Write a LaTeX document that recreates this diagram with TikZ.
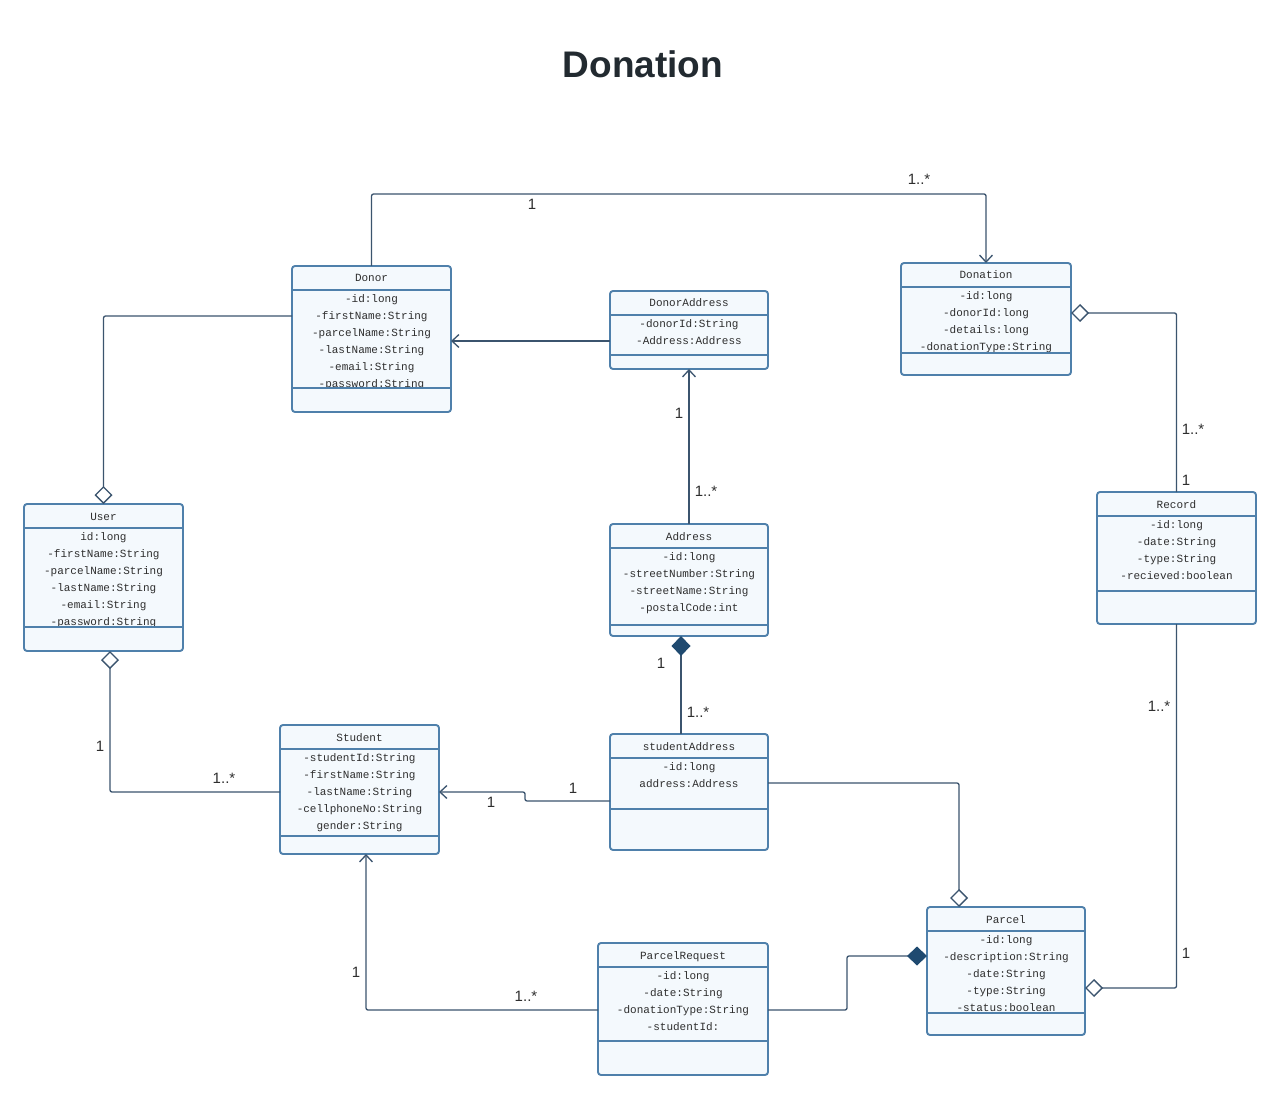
\documentclass[tikz,border=0pt]{standalone}
\usepackage{fontspec}
\setmainfont{Liberation Sans}
\newfontfamily\monof{Liberation Mono}
\usetikzlibrary{arrows.meta}
\definecolor{boxborder}{HTML}{4F80AB}
\definecolor{boxfillc}{HTML}{F4F9FD}
\definecolor{txtcol}{HTML}{2E2E2E}
\definecolor{conncol}{HTML}{3B546E}
\definecolor{fdcol}{HTML}{1F4A70}
\definecolor{titlecol}{HTML}{222A30}
\tikzset{
  conn/.style={draw=conncol, line width=1.3pt, rounded corners=2pt},
  boxline/.style={draw=boxborder, line width=1.9pt},
  boxfill/.style={fill=boxfillc},
  attr/.style={font=\monof\fontsize{11}{12}\selectfont, text=txtcol, inner sep=0pt, anchor=base},
  lbl/.style={font=\fontsize{15}{18}\selectfont, text=txtcol, inner sep=0pt},
  obarb/.tip={Straight Barb[length=7pt,width=13pt]},
  odia/.tip={Diamond[length=18pt,width=18pt,fill=white]},
  fdia/.tip={Diamond[length=20pt,width=19pt,fill=fdcol,color=fdcol]},
}
\newcommand{\umlclass}[8]{%
  \node[inner sep=0pt, outer sep=0pt, minimum width={(#4-#2)*1pt}, minimum height={(#5-#3)*1pt}] (#1) at ({(#2+#4)/2},{(#3+#5)/2}) {};
  \fill[boxfill, rounded corners=3pt] (#2,#3) rectangle (#4,#5);
  \node[attr] at ({(#2+#4)/2},{#3+16}) {#7};
  \foreach \t [count=\i from 0] in {#8} {\node[attr] at ({(#2+#4)/2},{#3+36.5+17*\i}) {\t};}
  \fill[boxfill, rounded corners=2pt] ({#2+1},{#6+1}) rectangle ({#4-1},{#5-1});
  \draw[boxline] (#2,{#3+24}) -- (#4,{#3+24});
  \draw[boxline] (#2,#6) -- (#4,#6);
  \draw[boxline, rounded corners=3pt] (#2,#3) rectangle (#4,#5);
}
\begin{document}
\begin{tikzpicture}[x=1pt,y=-1pt]
\useasboundingbox[fill=white] (0,0) rectangle (1280,1099);
\node[font=\bfseries\fontsize{37}{40}\selectfont, text=titlecol] (title) at (643,64) {Donation};

\umlclass{donor}{292}{266}{451}{412}{388}{Donor}{-id:long,-firstName:String,-parcelName:String,-lastName:String,-email:String,-password:String}
\umlclass{donation}{901}{263}{1071}{375}{353}{Donation}{-id:long,-donorId:long,-details:long,-donationType:String}
\umlclass{user}{24}{504}{183}{651}{627}{User}{id:long,-firstName:String,-parcelName:String,-lastName:String,-email:String,-password:String}
\umlclass{donoraddr}{610}{291}{768}{369}{355}{DonorAddress}{-donorId:String,-Address:Address}
\umlclass{address}{610}{524}{768}{636}{625}{Address}{-id:long,-streetNumber:String,-streetName:String,-postalCode:int}
\umlclass{student}{280}{725}{439}{854}{836}{Student}{-studentId:String,-firstName:String,-lastName:String,-cellphoneNo:String,gender:String}
\umlclass{sa}{610}{734}{768}{850}{809}{studentAddress}{-id:long,address:Address}
\umlclass{pr}{598}{943}{768}{1075}{1041}{ParcelRequest}{-id:long,-date:String,-donationType:String,-studentId:}
\umlclass{parcel}{927}{907}{1085}{1035}{1013}{Parcel}{-id:long,-description:String,-date:String,-type:String,-status:boolean}
\umlclass{record}{1097}{492}{1256}{624}{591}{Record}{-id:long,-date:String,-type:String,-recieved:boolean}

% connectors
\draw[conn, -{obarb}] (donor.north) -- ++(0,-72) -| (donation.north);
\draw[conn, -{obarb}] (donoraddr.west |- 0,341) -- (donor.east |- 0,341);
\draw[conn, -{obarb}] (address.north) -- (donoraddr.south);
\draw[conn, -{odia}] (donor.west |- 0,316) -| (user.north);
\draw[conn, {odia}-] (donation.east |- 0,313) -| (record.north);
\draw[conn, -{odia}] (record.south) |- (parcel.east |- 0,988);
\draw[conn, {odia}-] ([xshift=6.5pt]user.south) |- (student.west |- 0,792);
\draw[conn, -{obarb}] (sa.west |- 0,801) -- (525,801) -- (525,792) -- (student.east |- 0,792);
\draw[conn, {fdia}-] ([xshift=-8pt]address.south) -- ([xshift=-8pt]sa.north);
\draw[conn, -{odia}] (sa.east |- 0,783) -| ([xshift=-47pt]parcel.north);
\draw[conn, -{fdia}] (pr.east |- 0,1010) -- (847,1010) -- (847,956) -- (parcel.west |- 0,956);
\draw[conn, -{obarb}] (pr.west |- 0,1010) -| ([xshift=6.5pt]student.south);

% multiplicity labels
\node[lbl] (l1) at (532,204) {1};
\node[lbl] (l2) at (919,179) {1..*};
\node[lbl] (l3) at (679,413) {1};
\node[lbl] (l4) at (706,491) {1..*};
\node[lbl] (l5) at (1193,429) {1..*};
\node[lbl] (l6) at (1186,480) {1};
\node[lbl] (l7) at (1159,706) {1..*};
\node[lbl] (l8) at (1186,953) {1};
\node[lbl] (l9) at (100,746) {1};
\node[lbl] (l10) at (224,778) {1..*};
\node[lbl] (l11) at (573,788) {1};
\node[lbl] (l12) at (491,802) {1};
\node[lbl] (l13) at (661,663) {1};
\node[lbl] (l14) at (698,712) {1..*};
\node[lbl] (l15) at (356,972) {1};
\node[lbl] (l16) at (526,996) {1..*};
\end{tikzpicture}
\end{document}
